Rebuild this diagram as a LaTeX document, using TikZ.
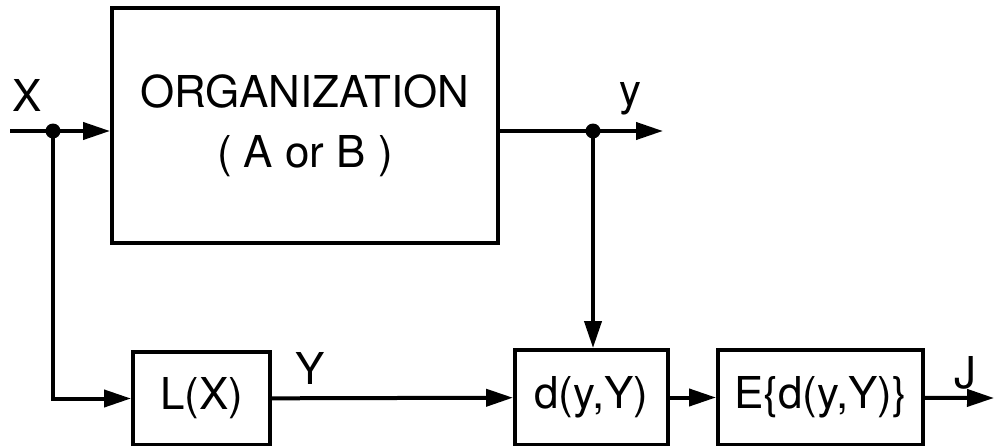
\documentclass[tikz,border=0pt]{standalone}
\usepackage{fontspec}
\setmainfont{TeX Gyre Heros}
\usetikzlibrary{arrows.meta, positioning}

\begin{document}
\begin{tikzpicture}[
    x=0.02cm, y=-0.02cm,
    block/.style={draw, rectangle, line width=0.08cm, inner sep=0pt, align=center, font=\fontsize{25}{34}\selectfont},
    sig/.style={font=\fontsize{25}{30}\selectfont, inner sep=0pt},
    arrow/.style={-{Triangle[length=0.54cm, width=0.34cm]}, line width=0.08cm},
    wire/.style={line width=0.08cm},
    junction/.style={circle, fill, inner sep=0pt, minimum size=0.3cm}
]
\useasboundingbox (0,0) rectangle (994,446);

% Nodes
\node (org) [block, minimum width=7.72cm, minimum height=4.7cm] at (305,125.5) {ORGANIZATION\\( A or B )};
\node (lx) [block, minimum width=2.74cm, minimum height=1.86cm] at (201.5,398.5) {L(X)};
\node (dist) [block, minimum width=3.06cm, minimum height=1.9cm] at (591.5,397.5) {d(y,Y)};
\node (expect) [block, minimum width=4.1cm, minimum height=1.9cm] at (820.5,397.5) {E\textbraceleft d(y,Y)\textbraceright};

% Signal points
\coordinate (in) at (10,131);
\coordinate (jx) at (53,131);
\coordinate (jy) at (593,131);
\coordinate (out) at (663,131);
\coordinate (jout) at (994,398);

% Labels
\node (xlab) [sig] at (27,95) {X};
\node (ylab) [sig] at (630,99) {y};
\node (Ylab) [sig] at (310,368) {Y};
\node (jlab) [sig] at (965,373) {J};

% Paths
\draw [arrow] (in) -- (in -| org.west);
\draw [wire] (org.east |- jy) -- (jy);
\draw [arrow] (jy) -- (out);
\draw [arrow] (jy) -- (jy |- dist.north);
\draw [arrow] (jx) |- (lx.west);
\draw [arrow] (lx) -- (dist);
\draw [arrow] (dist) -- (expect);
\draw [arrow] (expect) -- (jout);

\node [junction] at (jx) {};
\node [junction] at (jy) {};

\end{tikzpicture}
\end{document}
